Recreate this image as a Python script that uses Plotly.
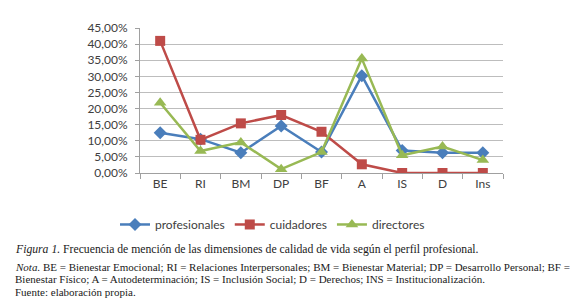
import plotly.graph_objects as go

categories = ["BE", "RI", "BM", "DP", "BF", "A", "IS", "D", "Ins"]
profesionales = [12.5, 10.5, 6.3, 14.6, 6.5, 30.2, 7.0, 6.3, 6.3]
cuidadores = [41.0, 10.3, 15.4, 18.0, 12.8, 2.7, 0.0, 0.0, 0.0]
directores = [21.8, 6.8, 9.5, 1.2, 6.5, 35.5, 5.5, 8.2, 4.0]
y_ticks = [0, 5, 10, 15, 20, 25, 30, 35, 40, 45]
y_ticktext = [f"{v:.2f}".replace(".", ",") + "%" for v in y_ticks]

series = [
    ("profesionales", profesionales, "#4A7EBB", "diamond", 10),
    ("cuidadores", cuidadores, "#BE4B48", "square", 10),
    ("directores", directores, "#98B954", "triangle-up", 11),
]

fig = go.Figure()
for name, vals, col, sym, sz in series:
    fig.add_trace(go.Scatter(
        x=categories, y=vals, name=name, mode="lines+markers",
        line=dict(color=col, width=2.5),
        marker=dict(symbol=sym, size=sz, color=col),
    ))

sans = "Lato, Open Sans, Liberation Sans, sans-serif"
fig.update_layout(
    width=580, height=301,
    margin=dict(l=132, r=85, t=15, b=136),
    paper_bgcolor="white", plot_bgcolor="white",
    font=dict(family=sans, size=12, color="#404040"),
    showlegend=True,
    legend=dict(orientation="h", x=0.365, xanchor="center", y=-0.355, yanchor="middle",
                font=dict(family=sans, size=12, color="#404040"), itemwidth=30,
                tracegroupgap=0, bgcolor="rgba(0,0,0,0)"),
    xaxis=dict(
        type="category", showgrid=False, showline=True, linecolor="#A0A0A0", linewidth=1,
        ticks="outside", tickson="boundaries", ticklen=5, tickcolor="#A0A0A0",
        tickfont=dict(family=sans, size=12, color="#404040"), range=[-0.5, 8.5],
    ),
    yaxis=dict(
        range=[0, 45], tickvals=y_ticks, ticktext=y_ticktext,
        showgrid=True, gridcolor="#BDBDBD", gridwidth=1, zeroline=False,
        showline=True, linecolor="#A0A0A0", ticks="outside", ticklen=4, tickcolor="#A0A0A0",
        ticklabelstandoff=5,
        tickfont=dict(family=sans, size=12, color="#404040"),
    ),
)

serif = "Liberation Serif, DejaVu Serif, serif"
def cap(text, ypx, size):
    fig.add_annotation(
        text=text, xref="paper", yref="paper",
        x=(5 - 132) / 363, y=(165 - ypx) / 150, xanchor="left", yanchor="middle",
        showarrow=False, align="left", font=dict(family=serif, size=size, color="#1a1a1a"),
    )

cap("<i>Figura 1.</i> Frecuencia de mención de las dimensiones de calidad de vida según el perfil profesional.", 244, 11.7)
cap("<i>Nota.</i> BE = Bienestar Emocional; RI = Relaciones Interpersonales; BM = Bienestar Material; DP = Desarrollo Personal; BF =", 262, 11)
cap("Bienestar Físico; A = Autodeterminación; IS = Inclusión Social; D = Derechos; INS = Institucionalización.", 275, 11)
cap("Fuente: elaboración propia.", 288, 11)

fig.write_html("out.html")
